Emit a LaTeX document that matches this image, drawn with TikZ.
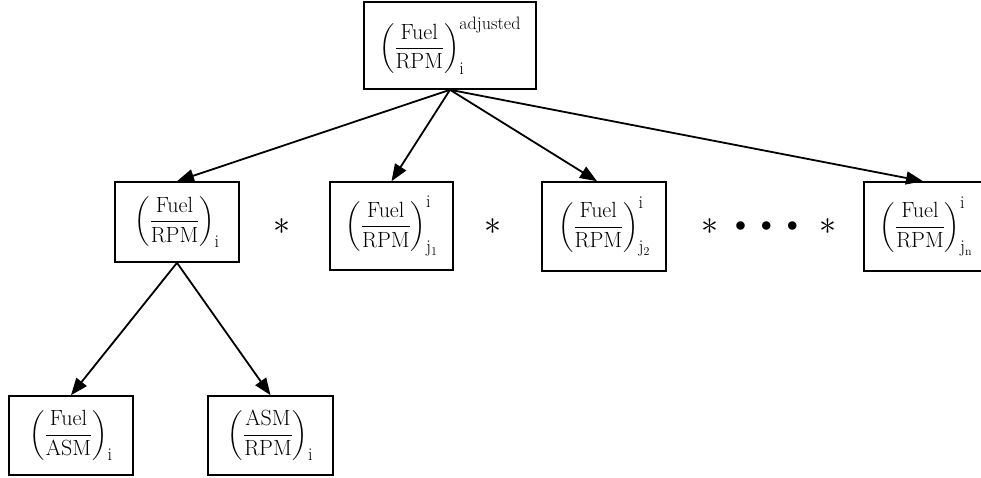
\documentclass[tikz,border=0pt]{standalone}
\usepackage{fix-cm}
\usepackage{amsmath}
\usetikzlibrary{arrows.meta}
\newcommand\scrtxt[1]{\hbox{\fontsize{18}{21}\selectfont #1}}
\newcommand\subidx[1]{\hbox{\fontsize{18}{21}\selectfont j\lower3pt\hbox{\fontsize{12}{14}\selectfont #1}}}
\newcommand\frc[2]{\left(\dfrac{\mathrm{#1}}{\mathrm{#2}}\right)}
\begin{document}
\begin{tikzpicture}[x=1pt,y=-1pt,
  box/.style={draw,line width=1.6pt,inner sep=0pt,align=center,font=\fontsize{22}{26}\selectfont},
  conn/.style={line width=1.8pt,-{Triangle[length=17pt,width=13pt]}},
  op/.style={inner sep=0pt,font=\fontsize{34}{38}\selectfont}]
\useasboundingbox (0,0) rectangle (981,477);
\node[box,minimum width=172pt,minimum height=87pt] (top) at (450,45.5)
  {$\frc{Fuel}{RPM}_{\scrtxt{i}}^{\scrtxt{adjusted}}$};
\node[box,minimum width=124pt,minimum height=80pt] (b1) at (177,222)
  {$\frc{Fuel}{RPM}_{\scrtxt{i}}$};
\node[box,minimum width=123pt,minimum height=88pt] (b2) at (391.5,226)
  {$\frc{Fuel}{RPM}_{\subidx{1}}^{\scrtxt{i}}$};
\node[box,minimum width=124pt,minimum height=89pt] (b3) at (604,226.5)
  {$\frc{Fuel}{RPM}_{\subidx{2}}^{\scrtxt{i}}$};
\node[box,minimum width=124pt,minimum height=89pt] (b4) at (926,226.5)
  {$\frc{Fuel}{RPM}_{\subidx{n}}^{\scrtxt{i}}$};
\node[box,minimum width=124pt,minimum height=79pt] (b5) at (71,435.5)
  {$\frc{Fuel}{ASM}_{\scrtxt{i}}$};
\node[box,minimum width=125pt,minimum height=79pt] (b6) at (270.5,435.5)
  {$\frc{ASM}{RPM}_{\scrtxt{i}}$};
\node[op] (s1) at (282,227) {$\ast$};
\node[op] (s2) at (493,227) {$\ast$};
\node[op] (s3) at (710,227) {$\ast$};
\node[inner sep=0pt,font=\fontsize{22}{26}\selectfont] (dots) at (766.5,227) {$\bullet\hspace{10pt}\bullet\hspace{10pt}\bullet$};
\node[op] (s4) at (828,227) {$\ast$};
\draw[conn] (top.south) -- (b1.north);
\draw[conn] (top.south) -- (b2.north);
\draw[conn] (top.south) -- ([xshift=-7pt]b3.north);
\draw[conn] (top.south) -- ([xshift=-3pt]b4.north);
\draw[conn] (b1.south) -- (b5.north);
\draw[conn] (b1.south) -- (b6.north);
\end{tikzpicture}
\end{document}
